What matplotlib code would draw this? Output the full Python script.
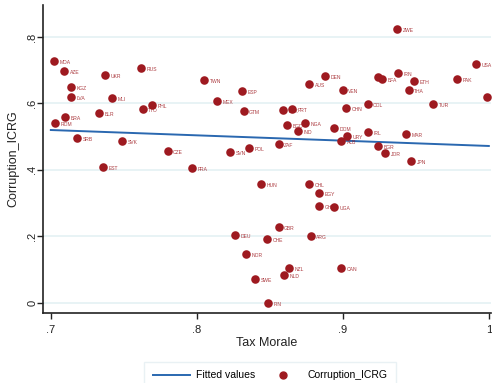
import numpy as np
import matplotlib
matplotlib.use('Agg')
import matplotlib.pyplot as plt
from matplotlib.lines import Line2D

# ── Data ───────────────────────────────────────────────────────────────────────
countries = ['MDA', 'AZE', 'UKR', 'RUS', 'KGZ', 'LVA', 'MLI', 'BLR', 'TTO', 'PHL',
             'BRA', 'ROM', 'SRB', 'SVK', 'CZE', 'EST', 'FRA', 'TWN', 'ESP', 'MEX',
             'GTM', 'LUX', 'PRT', 'AUS', 'DEN', 'ZWE', 'USA', '', 'BFA', 'IRN',
             'ETH', 'PAK', 'VEN', 'THA', '', 'COL', 'CHN', 'TUR', 'BGD', 'NGA',
             'IND', 'DOM', 'URY', 'ALB', 'IRL', 'MAR', 'BGR', 'JOR', 'JPN', 'ZAF',
             'POL', 'SVN', 'HUN', 'CHL', 'EGY', 'GHA', 'UGA', 'GBR', 'DEU', 'CHE',
             'ARG', 'NOR', 'NZL', 'NLD', 'CAN', 'SWE', 'FIN']

tax_morale = [0.702, 0.709, 0.737, 0.762, 0.714, 0.714, 0.742, 0.733, 0.763, 0.769,
              0.710, 0.703, 0.718, 0.749, 0.780, 0.736, 0.797, 0.805, 0.831, 0.814,
              0.832, 0.859, 0.865, 0.877, 0.888, 0.937, 0.991, 0.924, 0.927, 0.938,
              0.949, 0.978, 0.900, 0.945, 0.999, 0.917, 0.902, 0.962, 0.862, 0.874,
              0.869, 0.894, 0.903, 0.899, 0.917, 0.943, 0.924, 0.929, 0.947, 0.856,
              0.836, 0.823, 0.844, 0.877, 0.884, 0.884, 0.894, 0.856, 0.826, 0.848,
              0.878, 0.834, 0.863, 0.860, 0.899, 0.840, 0.849]

corruption = [0.728, 0.698, 0.686, 0.707, 0.650, 0.620, 0.617, 0.571, 0.583, 0.595,
              0.559, 0.541, 0.496, 0.487, 0.457, 0.409, 0.406, 0.671, 0.638, 0.608,
              0.577, 0.580, 0.583, 0.659, 0.683, 0.824, 0.719, 0.680, 0.674, 0.692,
              0.668, 0.674, 0.641, 0.641, 0.620, 0.598, 0.586, 0.598, 0.535, 0.541,
              0.517, 0.526, 0.502, 0.487, 0.514, 0.508, 0.472, 0.451, 0.427, 0.478,
              0.466, 0.454, 0.358, 0.358, 0.331, 0.292, 0.289, 0.229, 0.205, 0.192,
              0.202, 0.147, 0.105, 0.084, 0.105, 0.072, 0.000]

# Fitted values (linear fit as shown in the chart)
fit_x = [0.7, 1.0]
fit_y = [0.520, 0.472]

x_ticks = [0.7, 0.8, 0.9, 1.0]
x_tick_labels = ['.7', '.8', '.9', '1']
y_ticks = [0, 0.2, 0.4, 0.6, 0.8]
y_tick_labels = ['0', '.2', '.4', '.6', '.8']

# ── Style ──────────────────────────────────────────────────────────────────────
DOT_COLOR  = '#9e1a20'
LINE_COLOR = '#2a68b0'
GRID_COLOR = '#e4f1f4'

plt.rcParams['font.family'] = ['Liberation Sans', 'DejaVu Sans']

fig = plt.figure(figsize=(4.92, 3.83), dpi=100)
ax = fig.add_axes([0.087, 0.183, 0.911, 0.804])

ax.plot(fit_x, fit_y, color=LINE_COLOR, linewidth=1.4, zorder=2)
ax.scatter(tax_morale, corruption, s=38, color=DOT_COLOR, zorder=3, linewidths=0)

for name, xv, yv in zip(countries, tax_morale, corruption):
    if not name:
        continue
    ax.annotate(name, (xv, yv), xytext=(4, -1), textcoords='offset points',
                fontsize=3.6, color=DOT_COLOR, va='center', ha='left', alpha=0.85)

ax.set_xlim(0.6945, 1.0015)
ax.set_ylim(-0.030, 0.896)

ax.set_xticks(x_ticks)
ax.set_xticklabels(x_tick_labels)
ax.set_yticks(y_ticks)
ax.set_yticklabels(y_tick_labels, rotation=90, va='center')
ax.tick_params(axis='both', labelsize=8, length=4, width=1, color='#222222',
               labelcolor='#222222')
ax.tick_params(axis='x', pad=5)
ax.tick_params(axis='y', pad=0)

ax.grid(axis='y', color=GRID_COLOR, linewidth=1.2, zorder=0)
ax.set_axisbelow(True)

for side in ['top', 'right']:
    ax.spines[side].set_visible(False)
for side in ['left', 'bottom']:
    ax.spines[side].set_linewidth(1.2)
    ax.spines[side].set_color('#222222')

ax.set_xlabel('Tax Morale', fontsize=9, color='#222222', labelpad=1)
ax.set_ylabel('Corruption_ICRG', fontsize=9, color='#222222', labelpad=6)

handles = [Line2D([0], [0], color=LINE_COLOR, linewidth=1.4),
           Line2D([0], [0], marker='o', color=DOT_COLOR, linestyle='none', markersize=5)]
leg = fig.legend(handles, ['Fitted values', 'Corruption_ICRG'], loc='upper center',
                 bbox_to_anchor=(0.549, 0.068), ncol=2, fontsize=7.5, frameon=True,
                 fancybox=False, edgecolor='#e4eef2', handlelength=3.6,
                 handletextpad=0.6, columnspacing=0.8, borderpad=0.8)

fig.savefig('out.png', dpi=100, facecolor='white')
